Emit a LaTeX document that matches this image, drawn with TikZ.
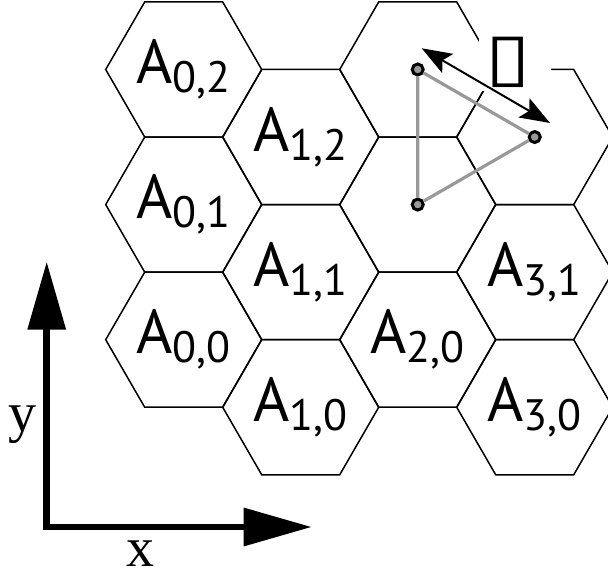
\documentclass[tikz,border=0pt]{standalone}
\usepackage{fontspec}
\setmainfont{Liberation Serif}
\setsansfont{PT Sans}
\newfontfamily\boxfont{DejaVu Sans}
\usetikzlibrary{arrows.meta,shapes.geometric}
\newcommand{\cell}[1]{A\raisebox{-4.5pt}{\fontsize{22}{22}\selectfont #1}}
\begin{document}
\begin{tikzpicture}[x=0.5pt, y=0.5pt, >=Stealth,
    hexcell/.style={regular polygon, regular polygon sides=6, draw, line width=0.75pt,
        minimum size=78pt, inner sep=0pt, font=\sffamily\fontsize{31}{31}\selectfont},
    corner/.style={circle, draw=black, fill=gray!80, line width=1.5pt, minimum size=5.5pt, inner sep=0pt},
    axislabel/.style={font=\rmfamily\fontsize{28}{28}\selectfont}]
  \useasboundingbox (0,0) rectangle (608,577);
  \clip (0,0) rectangle (608,577);
  % the cells, column by column
  \foreach \c/\r/\txt in {0/0/{\cell{0,0}}, 0/1/{\cell{0,1}}, 0/2/{\cell{0,2}},
                          1/0/{\cell{1,0}}, 1/1/{\cell{1,1}}, 1/2/{\cell{1,2}},
                          2/0/{\cell{2,0}}, 2/1/{}, 2/2/{},
                          3/0/{\cell{3,0}}, 3/1/{\cell{3,1}}, 3/2/{}} {
    \pgfmathsetmacro{\hx}{183.7+117*\c}
    \pgfmathsetmacro{\hy}{237.3+135.1*\r-67.55*mod(\c,2)}
    \node[hexcell] (h\c\r) at (\hx,\hy) {\txt};
  }
  % distance between neighbouring cells
  \node[fill=white, minimum width=36pt, minimum height=29pt, inner sep=0pt,
        font=\boxfont\fontsize{33}{33}\selectfont] (len) at (515,515) {\scalebox{1.25}[1]{▯}\kern7pt};
  \coordinate (arrA) at (421.7,528.7);
  \coordinate (arrB) at (550,454);
  \draw[<->, line width=1pt, >={Stealth[length=15pt,width=11pt,inset=3pt]}] (arrA) -- (arrB);
  \node[corner] (t1) at (h22) {};
  \node[corner] (t2) at (h32) {};
  \node[corner] (t3) at (h21) {};
  \draw[gray!80, line width=1.6pt] (t1) -- (t2) -- (t3) -- (t1);
  % axes
  \coordinate (orig) at (46.7,50);
  \coordinate (xend) at (311.7,50);
  \coordinate (yend) at (46.7,315.3);
  \draw[line width=3.25pt, {Triangle[length=34pt,width=18.5pt]}-{Triangle[length=34pt,width=18.5pt]}]
    (yend) -- (orig) -- (xend);
  \node[axislabel] (ylab) at (22.7,152) {y};
  \node[axislabel] (xlab) at (140,23) {x};
\end{tikzpicture}
\end{document}
